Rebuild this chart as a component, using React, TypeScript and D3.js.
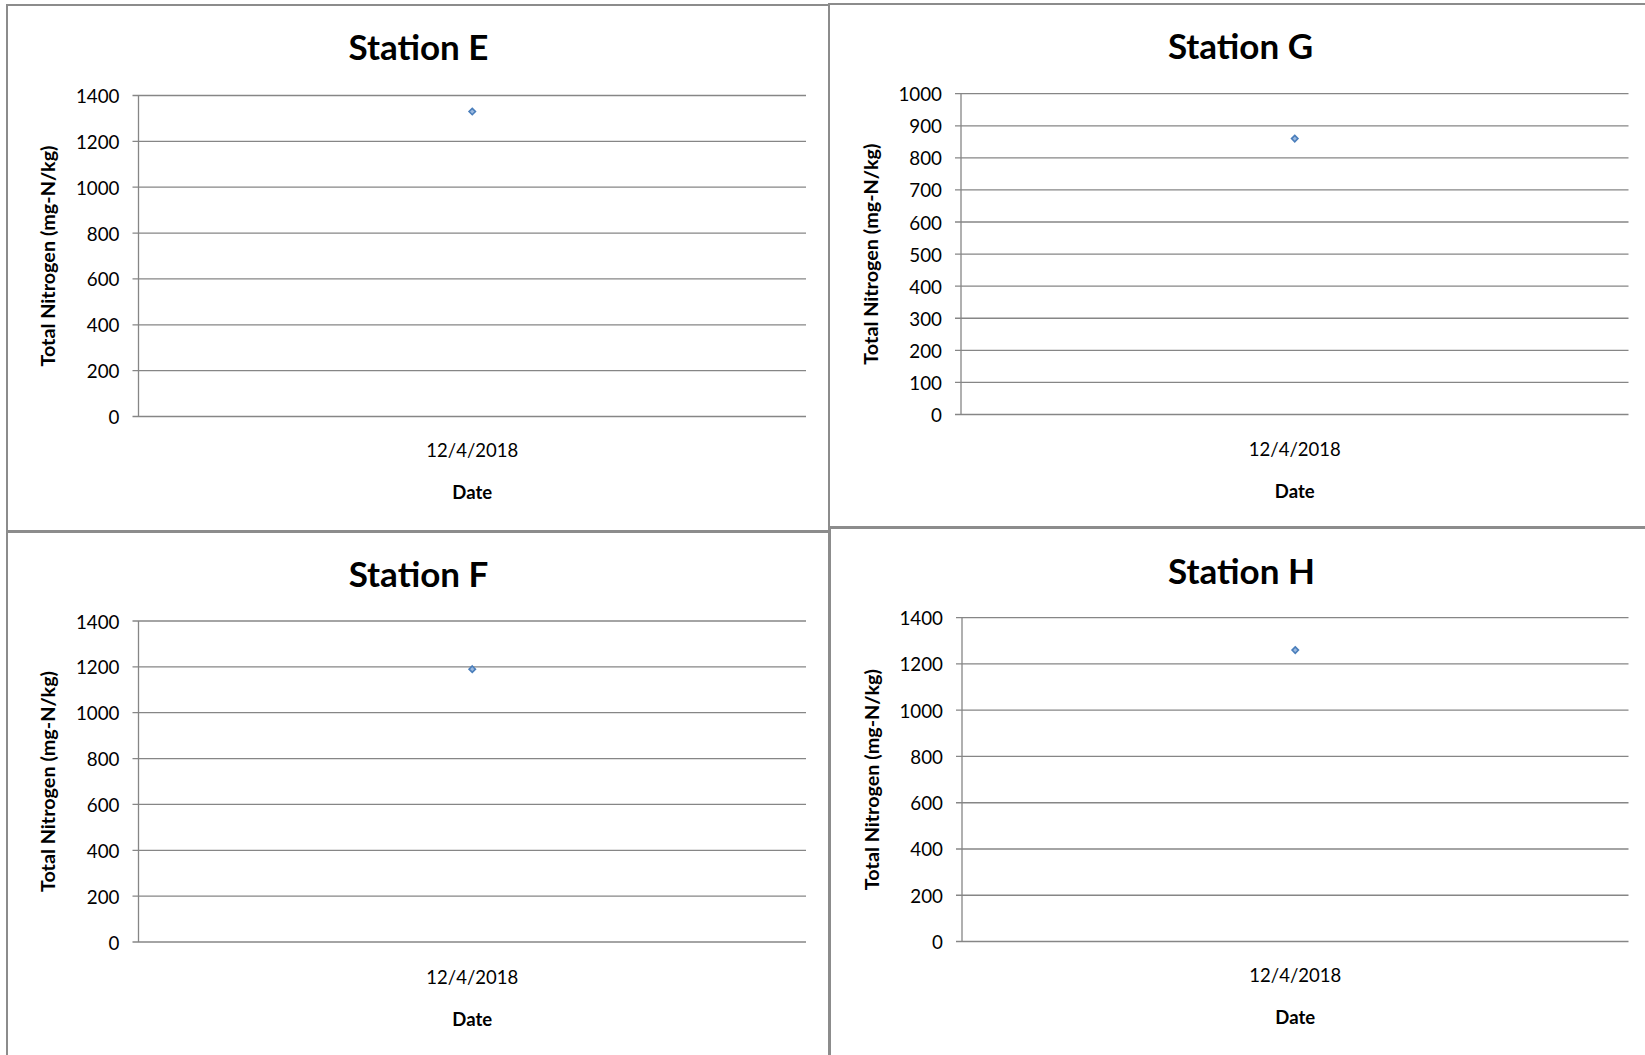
import React from "react";
import * as d3 from "d3";

// ---- data ----
const stationNames = ["Station E", "Station G", "Station F", "Station H"];
const dates = ["12/4/2018"];
const valuesE = [1330];
const valuesG = [860];
const valuesF = [1190];
const valuesH = [1260];
const yMaxE = 1400, yMaxG = 1000, yMaxF = 1400, yMaxH = 1400;
const tickStepE = 200, tickStepG = 100, tickStepF = 200, tickStepH = 200;
const yTitle = "Total Nitrogen (mg-N/kg)";
const xTitle = "Date";

// ---- layout (positions only) ----
type Layout = {
  box: { x: number; y: number; w: number; h: number };
  plot: { left: number; right: number; top: number; bottom: number };
  titleY: number; xLabelY: number; dateY: number; yTitleX: number;
};
const layouts: Layout[] = [
  { box: { x: 7, y: 5, w: 822, h: 526 }, plot: { left: 138.5, right: 806, top: 95.5, bottom: 416.5 }, titleY: 46, xLabelY: 450, dateY: 492, yTitleX: 47 },
  { box: { x: 829, y: 4, w: 830, h: 523 }, plot: { left: 961, right: 1628.5, top: 93.7, bottom: 414.5 }, titleY: 45, xLabelY: 449, dateY: 491, yTitleX: 870 },
  { box: { x: 7, y: 532, w: 822, h: 540 }, plot: { left: 138.5, right: 806, top: 621, bottom: 942 }, titleY: 573, xLabelY: 977, dateY: 1019, yTitleX: 47 },
  { box: { x: 830, y: 528, w: 830, h: 540 }, plot: { left: 962, right: 1628.5, top: 617.7, bottom: 941.5 }, titleY: 570, xLabelY: 975, dateY: 1017, yTitleX: 871 },
];

const seriesList = [valuesE, valuesG, valuesF, valuesH];
const yMaxes = [yMaxE, yMaxG, yMaxF, yMaxH];
const tickSteps = [tickStepE, tickStepG, tickStepF, tickStepH];

const FONT = "Lato, 'Open Sans', sans-serif";
const GRID = "#868686";

function Panel({ idx }: { idx: number }) {
  const L = layouts[idx];
  const values = seriesList[idx];
  const yMax = yMaxes[idx];
  const step = tickSteps[idx];
  const y = d3.scaleLinear().domain([0, yMax]).range([L.plot.bottom, L.plot.top]);
  const x = d3.scaleBand<string>().domain(dates).range([L.plot.left, L.plot.right]).padding(0);
  const ticks = d3.range(0, yMax + step / 2, step);
  const cx = (L.plot.left + L.plot.right) / 2;
  const diamond = d3.symbol().type(d3.symbolDiamond2).size(26)();
  return (
    <g>
      <rect x={L.box.x} y={L.box.y} width={L.box.w} height={L.box.h} fill="#fff" stroke="#8c8c8c" strokeWidth={2} />
      <text x={L.box.x + 411.5} y={L.titleY} textAnchor="middle" dominantBaseline="central"
        fontFamily={FONT} fontWeight="bold" fontSize={35} fill="#000">{stationNames[idx]}</text>
      {ticks.map((t) => (
        <g key={t}>
          <line x1={L.plot.left - 6} x2={L.plot.right} y1={y(t)} y2={y(t)} stroke={GRID} strokeWidth={1.3} />
          <text x={L.plot.left - 19} y={y(t)} textAnchor="end" dominantBaseline="central" fontFamily={FONT} fontSize={18.8} fill="#000">{t}</text>
        </g>
      ))}
      <line x1={L.plot.left} x2={L.plot.left} y1={L.plot.top} y2={L.plot.bottom} stroke={GRID} strokeWidth={1.3} />
      {dates.map((d) => (
        <text key={d} x={(x(d) as number) + x.bandwidth() / 2} y={L.xLabelY} textAnchor="middle" dominantBaseline="central"
          fontFamily={FONT} fontSize={18.5} fill="#000">{d}</text>
      ))}
      <text x={cx} y={L.dateY} textAnchor="middle" dominantBaseline="central" fontFamily={FONT} fontWeight="bold" fontSize={18.5} fill="#000">{xTitle}</text>
      <text transform={`translate(${L.yTitleX},${(L.plot.top + L.plot.bottom) / 2}) rotate(-90)`} textAnchor="middle" dominantBaseline="central"
        fontFamily={FONT} fontWeight="bold" fontSize={19.8} fill="#000">{yTitle}</text>
      {values.map((v, i) => (
        <path key={i} d={diamond as string} transform={`translate(${(x(dates[i]) as number) + x.bandwidth() / 2},${y(v)})`}
          fill="#9bb9e0" stroke="#4a7ebb" strokeWidth={1.6} />
      ))}
    </g>
  );
}

export default function App() {
  return (
    <svg width={1645} height={1055} style={{ position: "absolute", left: 0, top: 0, background: "#fff" }}>
      <rect x={0} y={0} width={1645} height={1055} fill="#fff" />
      {[0, 1, 2, 3].map((i) => <Panel key={i} idx={i} />)}
    </svg>
  );
}
